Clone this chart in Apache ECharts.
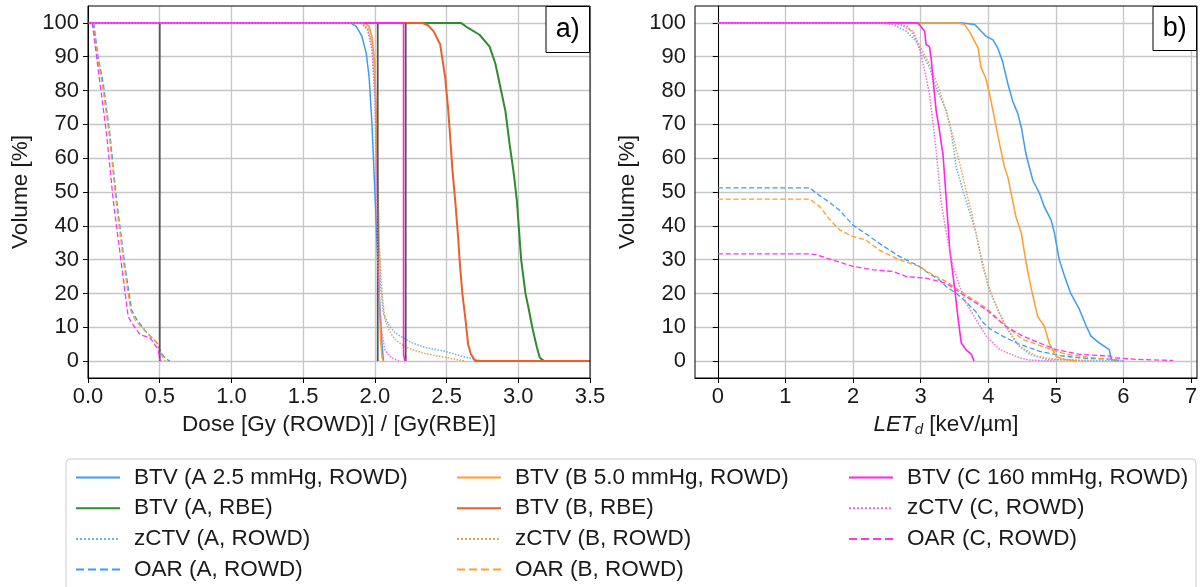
<!DOCTYPE html>
<html><head><meta charset="utf-8">
<script src="https://cdn.jsdelivr.net/npm/echarts@6/dist/echarts.min.js"></script>
<style>html,body{margin:0;padding:0;background:#fff}#c{width:1204px;height:587px}</style>
</head><body><div id="c"></div>
<script>
// ---------- tick values ----------
const yTicks = [0,10,20,30,40,50,60,70,80,90,100];
const xTicksB = [0,1,2,3,4,5,6,7];

// ---------- legend names ----------
const names = [
  'BTV (A 2.5 mmHg, ROWD)','BTV (A, RBE)','zCTV (A, ROWD)','OAR (A, ROWD)',
  'BTV (B 5.0 mmHg, ROWD)','BTV (B, RBE)','zCTV (B, ROWD)','OAR (B, ROWD)',
  'BTV (C 160 mmHg, ROWD)','zCTV (C, ROWD)','OAR (C, ROWD)'
];

// ---------- panel a) : dose [x, volume %] ----------
const doseBTV_A_ROWD = [[0,100],[1.83,100],[1.87,99],[1.91,96],[1.94,91],[1.96,84],[1.98,70],[2.0,50],[2.02,30],[2.03,20],[2.05,5],[2.06,0]];
const doseBTV_A_RBE  = [[0,100],[2.6,100],[2.65,98.5],[2.73,96.5],[2.8,93],[2.84,88],[2.87,82],[2.91,74],[2.94,64],[2.97,55],[2.99,47.5],[3.02,30],[3.05,20],[3.07,16],[3.1,9.5],[3.13,4],[3.15,1],[3.18,0],[3.5,0]];
const dosezCTV_A     = [[0,100],[1.9,100],[1.95,98],[1.98,93],[2.0,80],[2.02,55],[2.03,35],[2.04,22],[2.06,14],[2.1,10.5],[2.14,8.4],[2.2,6.8],[2.26,5.4],[2.35,4],[2.49,2.9],[2.6,1.5],[2.7,0.5],[2.75,0]];
const doseOAR_A      = [[0.04,100],[0.07,90],[0.107,82],[0.153,67],[0.2,47.5],[0.258,28],[0.305,15],[0.34,12.3],[0.41,8.4],[0.48,5.4],[0.5,3.5],[0.525,1.5],[0.55,0.5],[0.57,0]];
const doseBTV_B_ROWD = [[0,100],[1.93,100],[1.96,99],[1.98,96],[2.0,88],[2.01,70],[2.02,45],[2.03,20],[2.04,6],[2.05,1],[2.06,0]];
const doseBTV_B_RBE  = [[0,100],[2.33,100],[2.37,99.3],[2.41,97.5],[2.455,93.7],[2.49,84],[2.51,75],[2.524,67],[2.54,57],[2.56,47.5],[2.58,37],[2.594,28],[2.61,20],[2.63,13],[2.65,5],[2.67,2],[2.7,0],[3.5,0]];
const dosezCTV_B     = [[0,100],[1.92,100],[1.96,98],[1.99,92],[2.01,75],[2.02,55],[2.03,35],[2.05,20],[2.07,12.3],[2.1,9],[2.14,6.4],[2.2,4.5],[2.26,3.4],[2.35,2.2],[2.49,1.1],[2.63,0]];
const doseOAR_B      = [[0.035,100],[0.065,90],[0.1,82],[0.148,67],[0.195,47.5],[0.252,28],[0.298,15],[0.33,12],[0.4,8.8],[0.47,6],[0.5,3.5],[0.52,1],[0.54,0]];
const doseBTV_C_ROWD = [[0,100],[2.2,100],[2.2,2],[2.21,0]];
const dosezCTV_C     = [[0,100],[1.91,100],[1.95,98],[1.98,92],[2.0,78],[2.01,55],[2.02,30],[2.03,18],[2.05,8],[2.07,3.4],[2.1,1.5],[2.14,0.5],[2.18,0]];
const doseOAR_C      = [[0.03,100],[0.06,90],[0.084,82],[0.13,67],[0.176,47.5],[0.235,28],[0.28,13.2],[0.305,11.3],[0.363,7.8],[0.432,6.9],[0.49,3.4],[0.5,0.5],[0.51,0]];
const doseRef1 = [[0.5,100],[0.5,0]];
const doseRef2 = [[2.02,100],[2.02,0]];
const doseRef3 = [[2.215,100],[2.215,0]];

// ---------- panel b) : LETd [x, volume %] ----------
const letBTV_A_ROWD = [[0,100],[3.62,100],[3.8,99.5],[3.97,96],[4.07,95],[4.14,92.6],[4.21,88.7],[4.29,82],[4.36,77],[4.44,73],[4.49,69],[4.56,61],[4.66,53.4],[4.76,49.5],[4.83,45.6],[4.93,41.7],[4.98,37.8],[5.05,30],[5.13,25],[5.22,20],[5.35,15.2],[5.45,10.3],[5.52,7.4],[5.64,5.4],[5.79,3.4],[5.82,0.5],[5.9,0]];
const letzCTV_A     = [[0,100],[2.4,100],[2.59,99.5],[2.79,97.5],[2.93,94.6],[3.03,90.7],[3.13,86.8],[3.23,80.9],[3.38,74],[3.45,68],[3.53,57],[3.67,47.5],[3.82,37.8],[3.92,28],[4.02,21],[4.14,15.2],[4.26,10.3],[4.41,5.4],[4.61,2],[4.86,0.5],[5.5,0.2],[6.0,0]];
const letOAR_A      = [[0,51.2],[1.36,51.2],[1.5,49],[1.65,47],[1.8,44.6],[2.0,40.2],[2.2,37.5],[2.39,34.8],[2.69,30.9],[2.88,29],[2.98,28],[3.08,26.5],[3.28,24],[3.38,22],[3.53,20],[3.67,17.5],[3.82,14.5],[3.92,11.5],[4.02,9.6],[4.21,7.4],[4.46,5],[4.76,2.9],[5.1,1.5],[5.45,0.8],[5.8,0.6],[6.0,0]];
const letBTV_B_ROWD = [[0,100],[3.55,100],[3.65,99.5],[3.72,97.5],[3.85,92.6],[3.89,87],[3.96,83.8],[4.02,79],[4.09,72],[4.17,64],[4.24,57.4],[4.29,54.4],[4.36,47.5],[4.41,42.6],[4.49,37.8],[4.56,29],[4.63,22],[4.73,13.2],[4.83,10.3],[4.9,5.4],[5.0,1.5],[5.08,0.7],[5.3,0]];
const letzCTV_B     = [[0,100],[2.6,100],[2.81,99],[2.98,93.6],[3.13,87.8],[3.28,80],[3.42,71],[3.52,63],[3.62,55],[3.7,48],[3.77,42.6],[3.87,33],[3.99,23],[4.12,16.2],[4.26,10.3],[4.46,4.4],[4.71,1.5],[5.0,0.5],[5.5,0]];
const letOAR_B      = [[0,47.9],[1.36,47.9],[1.51,45.6],[1.65,42],[1.8,38.8],[2.0,36.8],[2.19,35.8],[2.39,32.8],[2.69,29.9],[2.98,28],[3.18,25.5],[3.38,23.5],[3.67,19.6],[3.97,15.7],[4.26,10.3],[4.51,6.4],[4.86,3.9],[5.15,2],[5.54,1],[5.9,0.3]];
const letBTV_C_ROWD = [[0,100],[2.96,100],[3.06,97.5],[3.08,93.6],[3.13,93],[3.16,88.7],[3.18,83.8],[3.23,74],[3.28,68],[3.3,65],[3.33,61.3],[3.38,47.5],[3.43,33],[3.5,22],[3.55,13.2],[3.6,5.4],[3.67,3.4],[3.75,2],[3.79,0]];
const letzCTV_C     = [[0,100],[2.4,100],[2.69,99.5],[2.89,97.5],[2.98,92.6],[3.06,85.8],[3.13,79],[3.18,71],[3.23,62],[3.3,47.5],[3.38,37.8],[3.48,28],[3.58,22],[3.67,17.2],[3.82,12.3],[3.97,7.4],[4.17,3.4],[4.46,1],[4.61,0.3],[5.0,0]];
const letOAR_C      = [[0,31.7],[1.36,31.7],[1.46,31.4],[1.7,29.9],[2.0,28],[2.3,27],[2.59,26.5],[2.79,25],[3.08,24.5],[3.38,23],[3.67,19.1],[3.97,15.2],[4.26,10.3],[4.51,7.4],[5.0,3.4],[5.35,2],[5.79,1.5],[5.84,1],[6.2,0.5],[6.73,0.2]];

// ---------- styles (kept apart from data) ----------
const C = {
  blue:'#3d9cf0', green:'#2f8b2f', skyDot:'#63b3e6',
  orange:'#ff9e2c', orangeRed:'#e8602a', orangeDot:'#eaa24e',
  magenta:'#ff24e8', magDot:'#ec6ee6', magDash:'#ff33f4', gray:'#555555'
};
const FONT = 'Liberation Sans, Arial, sans-serif';
const FS = 22.5;

const seriesA = [
  [names[0], doseBTV_A_ROWD, C.blue, 'solid', 1.5],
  [names[1], doseBTV_A_RBE, C.green, 'solid', 2],
  [names[2], dosezCTV_A, C.skyDot, 'dotted', 1.5],
  [names[3], doseOAR_A, C.blue, 'dashed', 1.3],
  [names[4], doseBTV_B_ROWD, C.orange, 'solid', 1.5],
  [names[5], doseBTV_B_RBE, C.orangeRed, 'solid', 2],
  [names[6], dosezCTV_B, C.orangeDot, 'dotted', 1.5],
  [names[7], doseOAR_B, C.orange, 'dashed', 1.3],
  ['ref1', doseRef1, C.gray, 'solid', 1.8],
  ['ref2', doseRef2, C.gray, 'solid', 1.8],
  ['ref3', doseRef3, C.gray, 'solid', 1.8],
  [names[8], doseBTV_C_ROWD, C.magenta, 'solid', 1.6],
  [names[9], dosezCTV_C, C.magDot, 'dotted', 1.5],
  [names[10], doseOAR_C, C.magDash, 'dashed', 1.3]
];
const seriesB = [
  [names[0], letBTV_A_ROWD, C.blue, 'solid', 1.5],
  [names[2], letzCTV_A, C.skyDot, 'dotted', 1.5],
  [names[3], letOAR_A, C.blue, 'dashed', 1.3],
  [names[4], letBTV_B_ROWD, C.orange, 'solid', 1.5],
  [names[6], letzCTV_B, C.orangeDot, 'dotted', 1.5],
  [names[7], letOAR_B, C.orange, 'dashed', 1.3],
  [names[8], letBTV_C_ROWD, C.magenta, 'solid', 1.6],
  [names[9], letzCTV_C, C.magDot, 'dotted', 1.5],
  [names[10], letOAR_C, C.magDash, 'dashed', 1.3]
];

function mk(spec, idx, z) {
  const [name, data, color, type, width] = spec;
  return {
    name, type: 'line', xAxisIndex: idx, yAxisIndex: idx, data,
    showSymbol: false, symbol: 'none', animation: false, z: z,
    color: color,
    lineStyle: { color, type, width }
  };
}
const series = [];
seriesA.forEach((s, i) => series.push(mk(s, 0, 2 + i * 0.01)));
seriesB.forEach((s, i) => series.push(mk(s, 1, 2 + i * 0.01)));

const tickLbl = { fontSize: 22, color: '#1a1a1a', fontFamily: FONT };
const nameStyle = { fontSize: FS, color: '#1a1a1a', fontFamily: FONT };
function yAxis(gi) {
  return {
    gridIndex: gi, type: 'value', min: -5, max: 105,
    name: 'Volume [%]', nameLocation: 'middle', nameGap: 56,
    nameTextStyle: nameStyle,
    axisLine: { show: true, lineStyle: { color: '#000', width: 1 } },
    axisTick: { show: true, length: 5, customValues: yTicks, lineStyle: { color: '#000' } },
    axisLabel: Object.assign({ customValues: yTicks, margin: 9 }, tickLbl),
    splitLine: { show: true, lineStyle: { color: '#c6c6c6', width: 1.3 } }
  };
}
const legendText = { fontSize: FS, color: '#1a1a1a', fontFamily: FONT, padding: [0, 0, 0, 9] };
function legend(left, data) {
  return {
    orient: 'vertical', left, top: 466, height: 200, padding: 0, data, itemGap: 7.7,
    itemWidth: 44, itemHeight: 14, textStyle: legendText,
    itemStyle: { opacity: 0 },
    selectedMode: false, z: 10
  };
}

const option = {
  backgroundColor: '#fff',
  animation: false,
  grid: [
    { left: 88, top: 6, width: 502, height: 372, show: true, borderColor: '#000', borderWidth: 1, z: 3 },
    { left: 695, top: 6, width: 502, height: 372, show: true, borderColor: '#000', borderWidth: 1, z: 3 }
  ],
  xAxis: [
    { gridIndex: 0, type: 'value', min: 0, max: 3.5, interval: 0.5,
      name: 'Dose [Gy (ROWD)] / [Gy(RBE)]', nameLocation: 'middle', nameGap: 35,
      nameTextStyle: nameStyle,
      axisLine: { show: true, onZero: false, lineStyle: { color: '#000' } },
      axisTick: { show: true, length: 5, lineStyle: { color: '#000' } },
      axisLabel: Object.assign({ margin: 8, formatter: v => v.toFixed(1) }, tickLbl),
      splitLine: { show: true, lineStyle: { color: '#c6c6c6', width: 1.3 } } },
    { gridIndex: 1, type: 'value', min: -0.3375, max: 7.0875,
      name: '{i|LET}{s|d} [keV/µm]', nameLocation: 'middle', nameGap: 35,
      nameTextStyle: Object.assign({
        rich: { i: { fontSize: FS, fontStyle: 'italic', fontFamily: FONT, color: '#1a1a1a' },
                s: { fontSize: 15, fontStyle: 'italic', fontFamily: FONT, color: '#1a1a1a', padding: [9, 0, 0, 0] } } }, nameStyle),
      axisLine: { show: true, onZero: false, lineStyle: { color: '#000' } },
      axisTick: { show: true, length: 5, customValues: xTicksB, lineStyle: { color: '#000' } },
      axisLabel: Object.assign({ margin: 8, customValues: xTicksB }, tickLbl),
      splitLine: { show: true, lineStyle: { color: '#c6c6c6', width: 1.3 } } }
  ],
  yAxis: [yAxis(0), yAxis(1)],
  legend: [
    legend(75, names.slice(0, 4)),
    legend(456, names.slice(4, 8)),
    legend(848, names.slice(8, 11))
  ],
  graphic: [
    { type: 'rect', shape: { x: 66, y: 459, width: 1130, height: 140, r: 4 },
      style: { fill: '#fff', stroke: '#cccccc', lineWidth: 1 }, z: 1 },
    { type: 'rect', shape: { x: 546, y: 6.5, width: 43.5, height: 46 },
      style: { fill: '#fff', stroke: '#000', lineWidth: 1 }, z: 50 },
    { type: 'text', x: 567.7, y: 30, style: { text: 'a)', fontSize: 27, fontFamily: FONT, fill: '#000', align: 'center', verticalAlign: 'middle' }, z: 51 },
    { type: 'rect', shape: { x: 1153, y: 6.5, width: 43.5, height: 44 },
      style: { fill: '#fff', stroke: '#000', lineWidth: 1 }, z: 50 },
    { type: 'text', x: 1174.7, y: 29, style: { text: 'b)', fontSize: 27, fontFamily: FONT, fill: '#000', align: 'center', verticalAlign: 'middle' }, z: 51 }
  ],
  series
};
const chart = echarts.init(document.getElementById('c'), null, { renderer: 'canvas' });
chart.setOption(option);
</script></body></html>
